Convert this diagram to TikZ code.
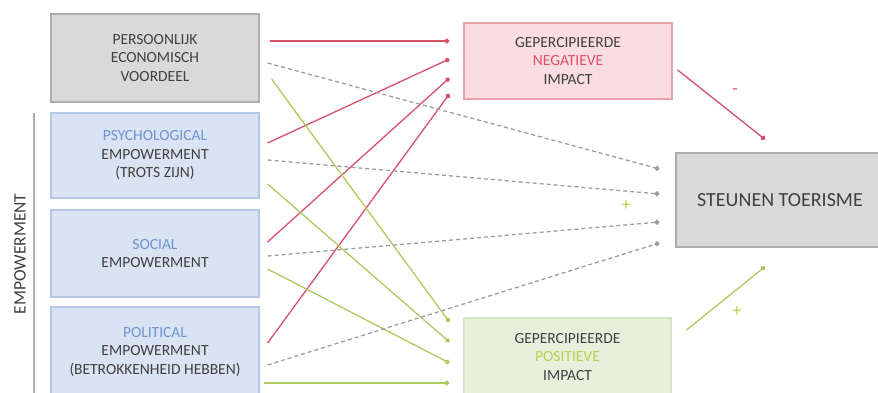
\documentclass[tikz,border=0pt]{standalone}
\usepackage{fontspec}
\setmainfont{Carlito}
\usetikzlibrary{arrows.meta,calc}
\definecolor{txt}{HTML}{404040}
\definecolor{redc}{HTML}{D5506B}
\definecolor{greenc}{HTML}{AEC95E}
\definecolor{grayc}{HTML}{9C9C9C}
\definecolor{bluet}{HTML}{6F93CF}
\definecolor{redt}{HTML}{E0506A}
\definecolor{greent}{HTML}{B9D04C}
\definecolor{grayfill}{HTML}{D9D9D9}
\definecolor{grayline}{HTML}{ADADAD}
\definecolor{bluefill}{HTML}{DAE3F3}
\definecolor{blueline}{HTML}{B4C7E7}
\definecolor{pinkfill}{HTML}{F9DDE0}
\definecolor{pinkline}{HTML}{E8A3AC}
\definecolor{greenfill}{HTML}{E7F0DD}
\definecolor{greenline}{HTML}{D3E6C4}
\tikzset{
  box/.style={draw, line width=1.2pt, minimum width=208pt, align=center, text=txt,
    font=\fontsize{15.5}{18.5}\selectfont, inner sep=0pt},
  graybox/.style={box, fill=grayfill, draw=grayline},
  bluebox/.style={box, fill=bluefill, draw=blueline},
  pinkbox/.style={box, fill=pinkfill, draw=pinkline},
  greenbox/.style={box, fill=greenfill, draw=greenline},
  redarr/.style={draw=redc, line width=1.3pt, -{Circle[length=5pt]}},
  greenarr/.style={draw=greenc, line width=1.3pt, -{Circle[length=5pt]}},
  grayarr/.style={draw=grayc, line width=1.3pt, dash pattern=on 4pt off 3pt, -{Circle[length=5pt]}},
  sign/.style={font=\fontsize{18}{18}\selectfont, inner sep=0pt}
}
\begin{document}
\begin{tikzpicture}[x=1pt,y=-1pt]
\useasboundingbox (0,0) rectangle (878,393);
\clip (0,0) rectangle (878,393);
\node[graybox, minimum height=88pt] (p1) at (155,58) {PERSOONLIJK\\ECONOMISCH\\VOORDEEL};
\node[bluebox, minimum height=85pt] (p2) at (155,155.5) {\textcolor{bluet}{PSYCHOLOGICAL}\\EMPOWERMENT\\(TROTS ZIJN)};
\node[bluebox, minimum height=87pt] (p3) at (155,253.5) {\textcolor{bluet}{SOCIAL}\\EMPOWERMENT};
\node[bluebox, minimum height=90pt] (p4) at (155,352) {\textcolor{bluet}{POLITICAL}\\EMPOWERMENT\\(BETROKKENHEID HEBBEN)};
\node[pinkbox, minimum height=76pt] (neg) at (568,61) {GEPERCIPIEERDE\\\textcolor{redt}{NEGATIEVE}\\IMPACT};
\node[greenbox, minimum width=207pt, minimum height=78pt] (pos) at (567.5,357) {GEPERCIPIEERDE\\\textcolor{greent}{POSITIEVE}\\IMPACT};
\node[graybox, minimum height=94pt, font=\fontsize{20}{24}\selectfont] (st) at (780,200) {STEUNEN TOERISME};
\node[text=txt, rotate=90, font=\fontsize{17.5}{18}\selectfont, inner sep=0pt] (emp) at (20,254) {EMPOWERMENT};
\coordinate (vtop) at (34,113);
\coordinate (vbot) at (34,393);
\draw[grayline, line width=1.2pt] (vtop) -- (vbot);
% red arrows
\draw[redarr] ([shift={(10,-17)}]p1.east) -- ([shift={(-14,-20)}]neg.west);
\draw[redarr] ([shift={(8,-12.5)}]p2.east) -- ([shift={(-14,-2)}]neg.west);
\draw[redarr] ([shift={(8,-11.5)}]p3.east) -- ([shift={(-14,17)}]neg.west);
\draw[redarr] ([shift={(8,-9)}]p4.east) -- ([shift={(-14,33)}]neg.west);
% green arrows
\draw[greenarr] ([shift={(12,21)}]p1.east) -- ([shift={(-14,-35)}]pos.west);
\draw[greenarr] ([shift={(8,28.5)}]p2.east) -- ([shift={(-14,-15)}]pos.west);
\draw[greenarr] ([shift={(8,15.5)}]p3.east) -- ([shift={(-14,6)}]pos.west);
\draw[greenarr] ([shift={(4,31)}]p4.east) -- ([shift={(-14,26)}]pos.west);
% gray dashed
\draw[grayarr] ([shift={(8,5)}]p1.east) -- ([shift={(-16,-31)}]st.west);
\draw[grayarr] ([shift={(8,4.5)}]p2.east) -- ([shift={(-16,-6)}]st.west);
\draw[grayarr] ([shift={(8,2.5)}]p3.east) -- ([shift={(-16,22)}]st.west);
\draw[grayarr] ([shift={(8,13)}]p4.east) -- ([shift={(-16,43)}]st.west);
% to steunen
\draw[redarr] ([shift={(5,9)}]neg.east) -- ([shift={(-15,-13)}]st.north);
\draw[greenarr] ([shift={(15,-27)}]pos.east) -- ([shift={(-15,19)}]st.south);
\node[sign, text=redc] (minus) at (735,92) {-};
\node[sign, text=greent] (plus1) at (737,312) {+};
\node[sign, text=greent] (plus2) at (626,206) {+};
\end{tikzpicture}
\end{document}
